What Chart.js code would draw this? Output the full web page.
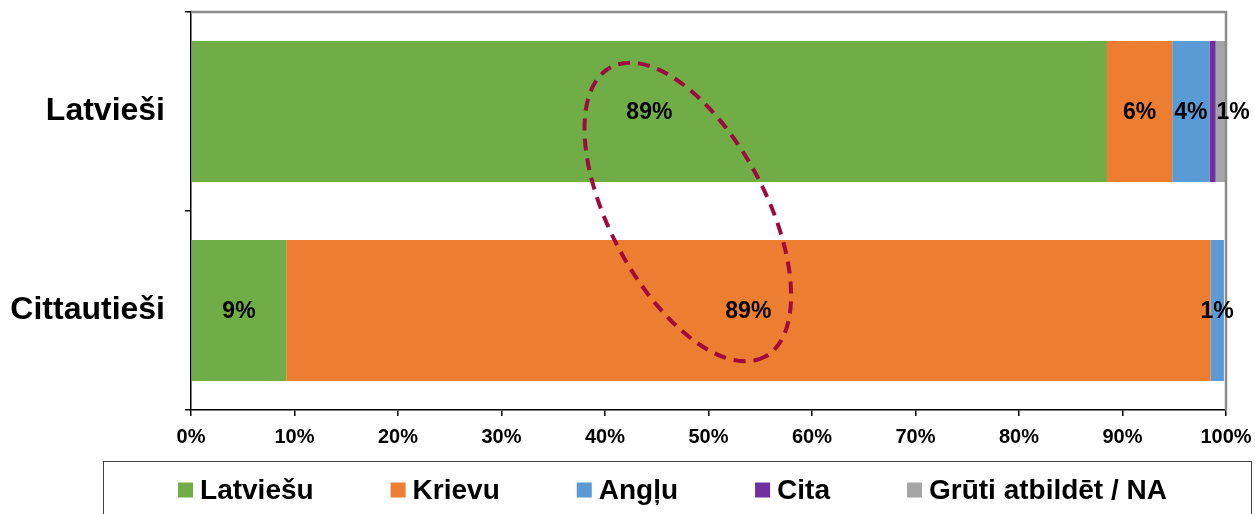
<!DOCTYPE html>
<html>
<head>
<meta charset="utf-8">
<script src="https://cdn.jsdelivr.net/npm/chart.js@4/dist/chart.umd.min.js"></script>
<style>
  html, body { margin: 0; padding: 0; background: #fff; }
  #wrap { width: 1255px; height: 514px; }
</style>
</head>
<body>
<div id="wrap"><canvas id="mainChart" width="1255" height="514"></canvas></div>
<script>
// Data (percent of respondents)
var groups = ['Latvieši', 'Cittautieši'];
var seriesNames = ['Latviešu', 'Krievu', 'Angļu', 'Cita', 'Grūti atbildēt / NA'];
var latviesu = [88.5, 9.2];
var krievu = [6.3, 89.3];
var anglu = [3.6, 1.3];
var cita = [0.6, 0];
var gruti = [1.0, 0];
var xTicks = [0, 10, 20, 30, 40, 50, 60, 70, 80, 90, 100];

var seriesColors = ['#70AD47', '#ED7D31', '#5B9BD5', '#7030A0', '#A5A5A5'];
var FONT = "'Liberation Sans', Arial, sans-serif";

// dashed ring around the two 89% shares (centre given in axis units)
var ring = { xValue: 48, yValue: 0.5, rx: 164, ry: 78, angle: 62, color: '#9E0B3F' };

var allData = [latviesu, krievu, anglu, cita, gruti];

var datasets = seriesNames.map(function(name, i) {
  return {
    label: name,
    data: allData[i],
    backgroundColor: seriesColors[i],
    borderWidth: 0,
    categoryPercentage: 1,
    barPercentage: 0.709
  };
});

// Gray top / right frame of the plot area
var frameLines = {
  id: 'frameLines',
  afterDatasetsDraw: function(chart) {
    var a = chart.chartArea, c = chart.ctx;
    c.save();
    c.strokeStyle = '#8C8C8C';
    c.lineWidth = 2.5;
    c.beginPath();
    c.moveTo(a.left, a.top);
    c.lineTo(a.right, a.top);
    c.lineTo(a.right, a.bottom);
    c.stroke();
    c.restore();
  }
};

// Dashed ellipse
var ellipseNote = {
  id: 'ellipseNote',
  afterDatasetsDraw: function(chart) {
    var c = chart.ctx;
    var cx = chart.scales.x.getPixelForValue(ring.xValue);
    var y0 = chart.scales.y.getPixelForValue(0);
    var y1 = chart.scales.y.getPixelForValue(1);
    var cy = y0 + (y1 - y0) * ring.yValue;
    c.save();
    c.strokeStyle = ring.color;
    c.lineWidth = 4;
    c.setLineDash([12, 8]);
    c.beginPath();
    c.ellipse(cx, cy + 1, ring.rx, ring.ry, ring.angle * Math.PI / 180, 0, Math.PI * 2);
    c.stroke();
    c.restore();
  }
};

// Percent labels centred in the segments
var barLabels = {
  id: 'barLabels',
  afterDraw: function(chart) {
    var c = chart.ctx;
    c.save();
    c.font = 'bold 23px ' + FONT;
    c.fillStyle = '#000';
    c.textAlign = 'center';
    c.textBaseline = 'middle';
    var prevRight = [];
    chart.data.datasets.forEach(function(ds, di) {
      var meta = chart.getDatasetMeta(di);
      meta.data.forEach(function(el, i) {
        var v = ds.data[i];
        if (!v || v < 0.8) return;
        var p = el.getProps(['x', 'base', 'y'], true);
        var txt = Math.round(v) + '%';
        var w = c.measureText(txt).width;
        var cx = (p.x + p.base) / 2;
        if (prevRight[i] !== undefined && cx - w / 2 < prevRight[i] + 9) {
          cx = prevRight[i] + 9 + w / 2;
        }
        c.fillText(txt, cx, p.y + 1);
        prevRight[i] = cx + w / 2;
      });
    });
    c.restore();
  }
};

// Boxed legend at the bottom
var boxLegend = {
  id: 'boxLegend',
  afterDraw: function(chart) {
    var c = chart.ctx;
    var left = 103.5, top = 461.5, right = 1251.5;
    c.save();
    c.strokeStyle = '#404040';
    c.lineWidth = 1;
    c.strokeRect(left, top, right - left, 80);

    c.font = 'bold 28px ' + FONT;
    c.textBaseline = 'middle';
    var box = 15, gapText = 7, gapItem = 77;
    var widths = seriesNames.map(function(n) { return c.measureText(n).width; });
    var total = 0;
    widths.forEach(function(w, i) {
      total += box + gapText + w + (i < widths.length - 1 ? gapItem : 0);
    });
    var x = (left + right) / 2 - total / 2 - 5;
    var cy = 490;
    seriesNames.forEach(function(n, i) {
      c.fillStyle = seriesColors[i];
      c.fillRect(x, cy - box / 2, box, box);
      c.fillStyle = '#000';
      c.fillText(n, x + box + gapText, cy + 1);
      x += box + gapText + widths[i] + gapItem;
    });
    c.restore();
  }
};

new Chart(document.getElementById('mainChart').getContext('2d'), {
  type: 'bar',
  data: { labels: groups, datasets: datasets },
  plugins: [frameLines, ellipseNote, barLabels, boxLegend],
  options: {
    indexAxis: 'y',
    responsive: false,
    animation: false,
    layout: { padding: { left: 0, right: 29, top: 12, bottom: 64 } },
    plugins: {
      legend: { display: false },
      tooltip: { enabled: false }
    },
    scales: {
      x: {
        stacked: true,
        min: 0,
        max: 100,
        z: 1,
        afterBuildTicks: function(s) {
          s.ticks = xTicks.map(function(v) { return { value: v }; });
        },
        afterFit: function(s) {
          s.height = 40;
          s.paddingLeft = 0;
          s.paddingRight = 0;
        },
        grid: { drawOnChartArea: false, tickLength: 6, color: '#000', lineWidth: 1.5 },
        border: { color: '#000', width: 1.5 },
        ticks: {
          color: '#000',
          padding: 9,
          maxRotation: 0,
          font: { family: FONT, size: 20, weight: 'bold' },
          callback: function(v) { return v + '%'; }
        }
      },
      y: {
        stacked: true,
        z: 1,
        afterFit: function(s) {
          s.width = 191;
          s.paddingTop = 0;
          s.paddingBottom = 0;
        },
        grid: { drawOnChartArea: false, offset: true, tickLength: 6, color: '#000', lineWidth: 1.5 },
        border: { color: '#000', width: 1.5 },
        ticks: {
          color: '#000',
          padding: 20,
          font: { family: FONT, size: 32, weight: 'bold' }
        }
      }
    }
  }
});
</script>
</body>
</html>
